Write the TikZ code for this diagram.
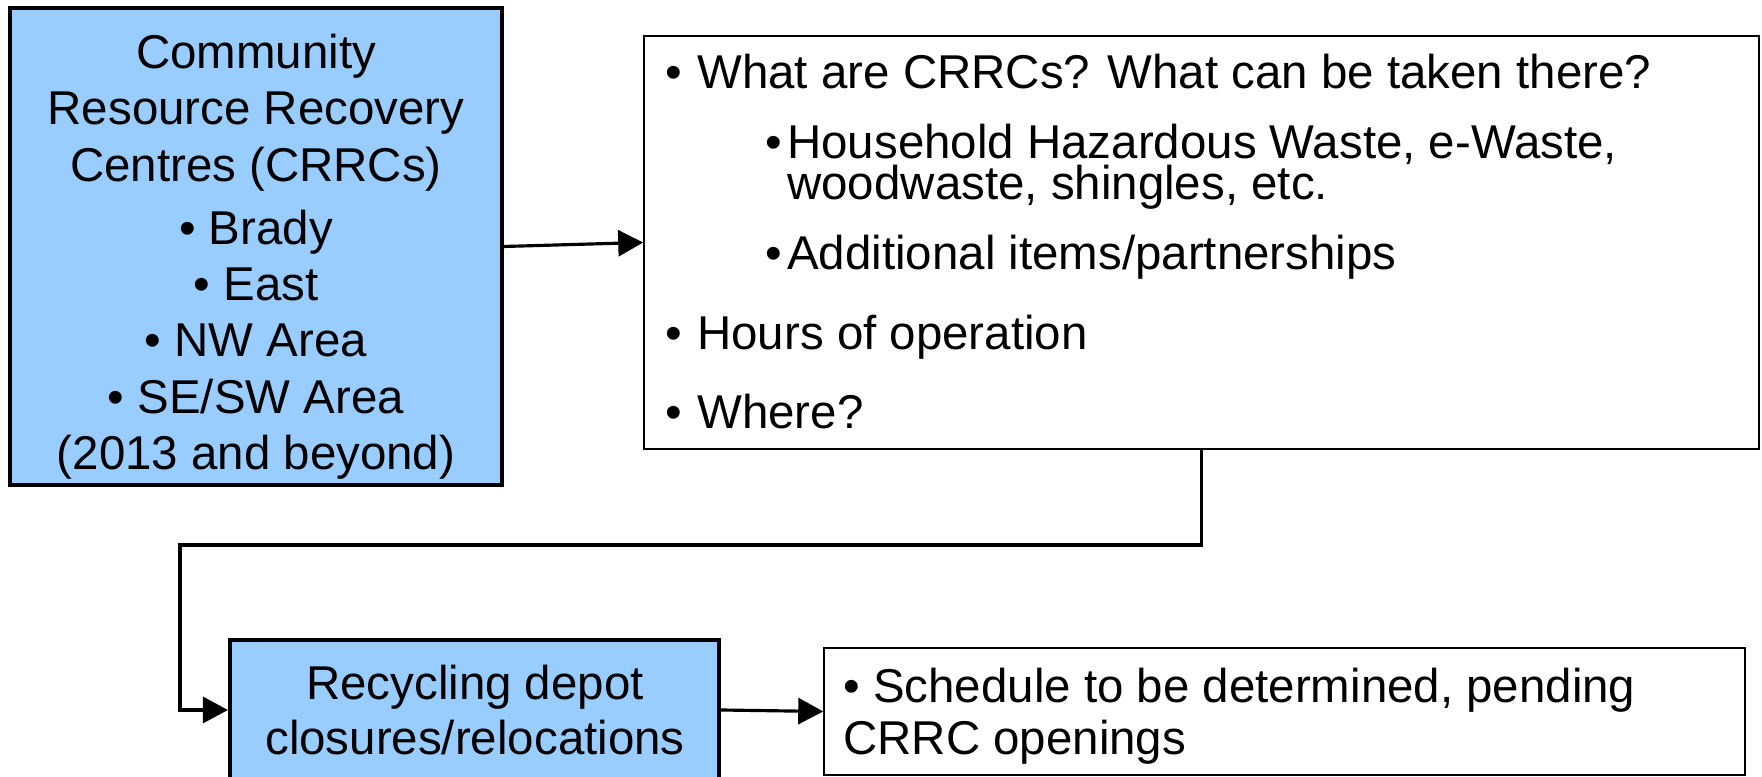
\documentclass[tikz,border=0pt]{standalone}
\usepackage{fontspec}
\setmainfont{Liberation Sans}
\usepackage{tikz}
\usetikzlibrary{arrows.meta}

\definecolor{boxblue}{HTML}{99CCFF}
\newcommand{\bull}[1]{\llap{•\hspace{#1}}}

\begin{document}
\begin{tikzpicture}[
	bluebox/.style={shape=rectangle, draw=black, fill=boxblue, line width=2.3pt},
	whitebox/.style={shape=rectangle, draw=black, fill=white, line width=0.9pt},
	txt/.style={inner sep=0pt, font=\fontsize{27pt}{32.15pt}\selectfont},
	link/.style={-{Triangle[length=5mm,width=5.2mm]}, line width=1.8pt}
	]
	
	\useasboundingbox (0, 0) rectangle (35.24, 15.54);
	\clip (0, 0) rectangle (35.24, 15.54);
	
	\node[bluebox, minimum width=9.84cm, minimum height=9.54cm] (crrc) at (5.12, 10.61) {};
	\node[whitebox, minimum width=22.3cm, minimum height=8.26cm] (info) at (24.03, 10.69) {};
	\node[bluebox, minimum width=9.78cm, minimum height=2.8cm] (recyc) at (9.49, 1.34) {};
	\node[whitebox, minimum width=18.42cm, minimum height=2.54cm] (sched) at (25.69, 1.31) {};
	\coordinate (bend) at (3.6, 4.64);
	
	\node[txt, anchor=base, align=center] (crrctxt) at (5.12, 6.14) {Community\\Resource Recovery\\Centres (CRRCs)\\[3.7pt]• Brady\\• East\\• NW Area\\• SE/SW Area\\(2013 and beyond)};
	
	\node[txt, anchor=base west] (what) at (13.94, 13.76) {\bull{8.9pt}What are CRRCs? What can be taken there?};
	\node[txt, anchor=base west, align=left] (waste) at (15.74, 11.54) {\bull{3.2pt}Household Hazardous Waste, e-Waste,\\[-8.6pt]woodwaste, shingles, etc.};
	\node[txt, anchor=base west] (extra) at (15.74, 10.14) {\bull{3.2pt}Additional items/partnerships};
	\node[txt, anchor=base west] (hours) at (13.94, 8.54) {\bull{8.9pt}Hours of operation};
	\node[txt, anchor=base west] (where) at (13.94, 6.96) {\bull{8.9pt}Where?};
	
	\node[txt, anchor=base, align=center] (recyctxt) at (9.5, 0.45) {Recycling depot\\[-0.85pt]closures/relocations};
	\node[txt, anchor=base west, align=left] (schedtxt) at (16.86, 0.45) {• Schedule to be determined, pending\\[-2.55pt]CRRC openings};
	
	\path[link] (crrc.east) edge (info.west);
	\draw[link] (info.south) |- (bend) |- (recyc.west);
	\path[link] (recyc.east) edge (sched.west);
	
\end{tikzpicture}
\end{document}
